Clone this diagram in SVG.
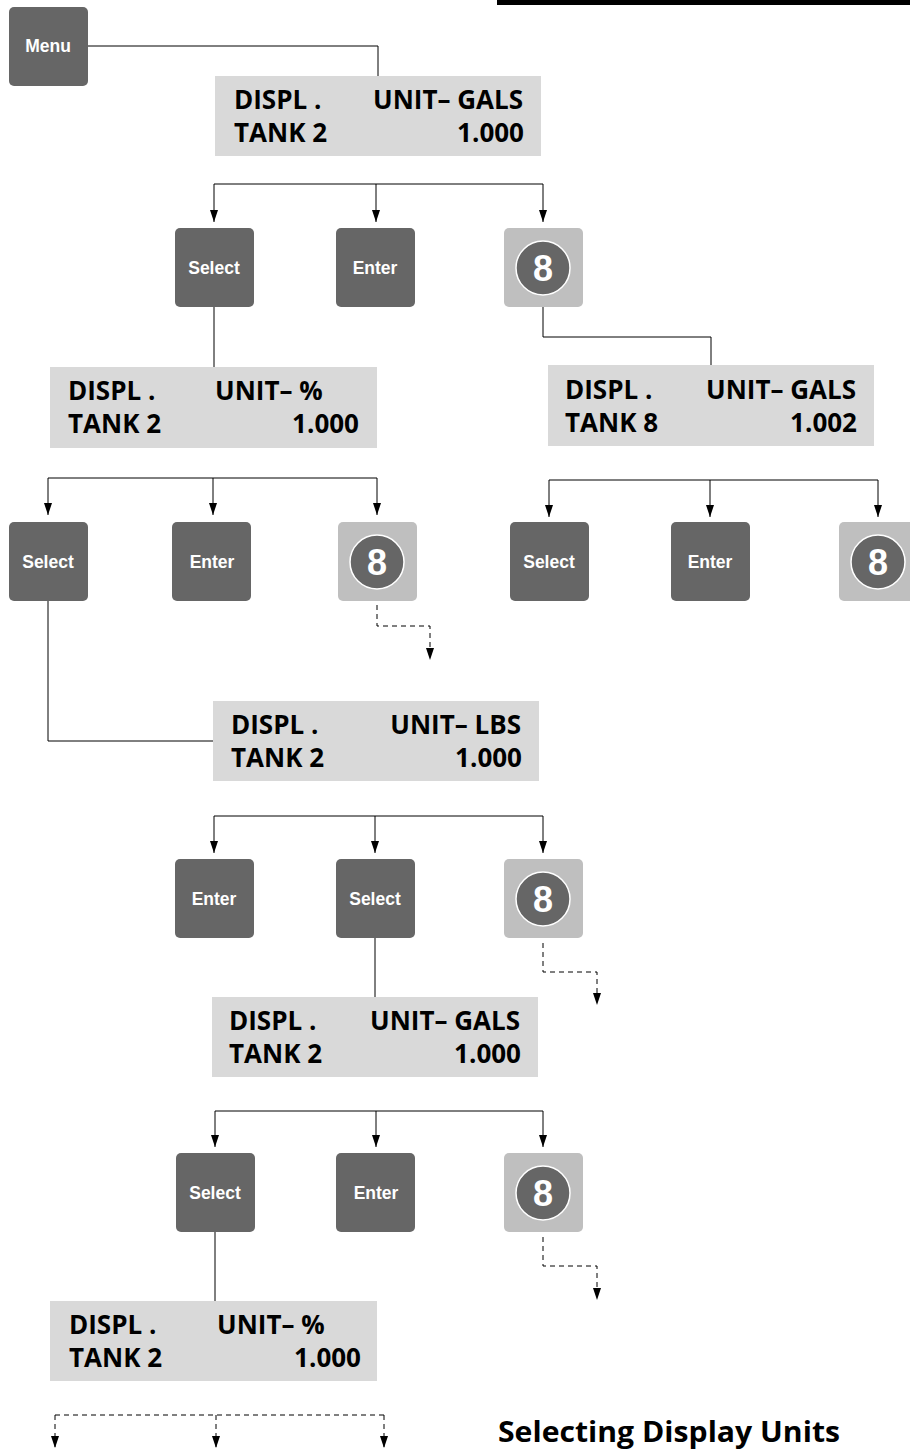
<svg xmlns="http://www.w3.org/2000/svg" width="910" height="1452" viewBox="0 0 910 1452">
<style>
.btn{fill:#666666}
.kbg{fill:#bfbfbf}
.kc{fill:#666666;stroke:#ffffff;stroke-width:1.5}
.bt{font-family:"Liberation Sans",Arial,sans-serif;font-weight:bold;font-size:17.5px;fill:#ffffff;text-anchor:middle}
.kt{font-family:"Liberation Sans",Arial,sans-serif;font-weight:bold;font-size:36px;fill:#ffffff;text-anchor:middle}
.disp{fill:#d9d9d9}
.dt{font-family:"Open Sans","Noto Sans",sans-serif;font-weight:bold;font-size:26px;fill:#000000}
.r{text-anchor:end}
.ln{fill:none;stroke:#000000;stroke-width:1}
.dl{fill:none;stroke:#000000;stroke-width:1;stroke-dasharray:5 4}
.title{font-family:"Open Sans","Noto Sans",sans-serif;font-weight:bold;font-size:29px;fill:#000000}
</style>
<defs>
<marker id="arr" viewBox="0 0 12 8" refX="12" refY="4" markerWidth="12" markerHeight="8" markerUnits="userSpaceOnUse" orient="auto">
<path d="M0,0 L12,4 L0,8 z" fill="#000000"/>
</marker>
</defs>
<rect x="497" y="0" width="413" height="5" fill="#000000"/>

<g id="connectors">
<path class="ln" d="M88,46 H378 V76"/>
<path class="ln" d="M214,184 H543"/>
<path class="ln" d="M214,184 V222" marker-end="url(#arr)"/>
<path class="ln" d="M376,184 V222" marker-end="url(#arr)"/>
<path class="ln" d="M543,184 V222" marker-end="url(#arr)"/>
<path class="ln" d="M214,307 V367"/>
<path class="ln" d="M543,307 V337 H711 V365"/>
<path class="ln" d="M48,478 H377"/>
<path class="ln" d="M48,478 V515" marker-end="url(#arr)"/>
<path class="ln" d="M213,478 V515" marker-end="url(#arr)"/>
<path class="ln" d="M377,478 V515" marker-end="url(#arr)"/>
<path class="dl" d="M377,605 V626 H430 V660" marker-end="url(#arr)"/>
<path class="ln" d="M48,601 V741 H213"/>
<path class="ln" d="M549,480 H878"/>
<path class="ln" d="M549,480 V517" marker-end="url(#arr)"/>
<path class="ln" d="M710,480 V517" marker-end="url(#arr)"/>
<path class="ln" d="M878,480 V517" marker-end="url(#arr)"/>
<path class="ln" d="M214,816 H543"/>
<path class="ln" d="M214,816 V853" marker-end="url(#arr)"/>
<path class="ln" d="M375,816 V853" marker-end="url(#arr)"/>
<path class="ln" d="M543,816 V853" marker-end="url(#arr)"/>
<path class="ln" d="M375,938 V997"/>
<path class="dl" d="M543,943 V972 H597 V1005" marker-end="url(#arr)"/>
<path class="ln" d="M215,1111 H543"/>
<path class="ln" d="M215,1111 V1147" marker-end="url(#arr)"/>
<path class="ln" d="M376,1111 V1147" marker-end="url(#arr)"/>
<path class="ln" d="M543,1111 V1147" marker-end="url(#arr)"/>
<path class="ln" d="M215,1232 V1301"/>
<path class="dl" d="M543,1237 V1266 H597 V1300" marker-end="url(#arr)"/>
<path class="dl" d="M55,1415 H384"/>
<path class="dl" d="M55,1415 V1448" marker-end="url(#arr)"/>
<path class="dl" d="M216,1415 V1448" marker-end="url(#arr)"/>
<path class="dl" d="M384,1415 V1448" marker-end="url(#arr)"/>
</g>

<g id="menu"><rect class="btn" x="9" y="7" width="79" height="79" rx="5"/><text class="bt" x="48" y="52">Menu</text></g>

<g id="display1"><rect class="disp" x="215" y="76" width="326" height="80"/>
<text class="dt" x="234" y="109">DISPL .</text><text class="dt r" x="523" y="109">UNIT– GALS</text>
<text class="dt" x="234" y="142">TANK 2</text><text class="dt r" x="524" y="142">1.000</text></g>

<g id="select1"><rect class="btn" x="175" y="228" width="79" height="79" rx="5"/><text class="bt" x="214" y="274">Select</text></g>
<g id="enter1"><rect class="btn" x="336" y="228" width="79" height="79" rx="5"/><text class="bt" x="375" y="274">Enter</text></g>
<g id="key8a"><rect class="kbg" x="504" y="228" width="79" height="79" rx="5"/><circle class="kc" cx="543" cy="268" r="27"/><text class="kt" x="543" y="281">8</text></g>

<g id="display2"><rect class="disp" x="50" y="367" width="327" height="81"/>
<text class="dt" x="68" y="400">DISPL .</text><text class="dt" x="215" y="400">UNIT– %</text>
<text class="dt" x="68" y="433">TANK 2</text><text class="dt r" x="359" y="433">1.000</text></g>

<g id="display3"><rect class="disp" x="548" y="365" width="326" height="81"/>
<text class="dt" x="565" y="399">DISPL .</text><text class="dt r" x="856" y="399">UNIT– GALS</text>
<text class="dt" x="565" y="432">TANK 8</text><text class="dt r" x="857" y="432">1.002</text></g>

<g id="select2"><rect class="btn" x="9" y="522" width="79" height="79" rx="5"/><text class="bt" x="48" y="568">Select</text></g>
<g id="enter2"><rect class="btn" x="172" y="522" width="79" height="79" rx="5"/><text class="bt" x="212" y="568">Enter</text></g>
<g id="key8b"><rect class="kbg" x="338" y="522" width="79" height="79" rx="5"/><circle class="kc" cx="377" cy="562" r="27"/><text class="kt" x="377" y="575">8</text></g>

<g id="select3"><rect class="btn" x="510" y="522" width="79" height="79" rx="5"/><text class="bt" x="549" y="568">Select</text></g>
<g id="enter3"><rect class="btn" x="671" y="522" width="79" height="79" rx="5"/><text class="bt" x="710" y="568">Enter</text></g>
<g id="key8c"><rect class="kbg" x="839" y="522" width="79" height="79" rx="5"/><circle class="kc" cx="878" cy="562" r="27"/><text class="kt" x="878" y="575">8</text></g>

<g id="display4"><rect class="disp" x="213" y="701" width="326" height="80"/>
<text class="dt" x="231" y="734">DISPL .</text><text class="dt r" x="521" y="734">UNIT– LBS</text>
<text class="dt" x="231" y="767">TANK 2</text><text class="dt r" x="522" y="767">1.000</text></g>

<g id="enter4"><rect class="btn" x="175" y="859" width="79" height="79" rx="5"/><text class="bt" x="214" y="905">Enter</text></g>
<g id="select4"><rect class="btn" x="336" y="859" width="79" height="79" rx="5"/><text class="bt" x="375" y="905">Select</text></g>
<g id="key8d"><rect class="kbg" x="504" y="859" width="79" height="79" rx="5"/><circle class="kc" cx="543" cy="899" r="27"/><text class="kt" x="543" y="912">8</text></g>

<g id="display5"><rect class="disp" x="212" y="997" width="326" height="80"/>
<text class="dt" x="229" y="1030">DISPL .</text><text class="dt r" x="520" y="1030">UNIT– GALS</text>
<text class="dt" x="229" y="1063">TANK 2</text><text class="dt r" x="521" y="1063">1.000</text></g>

<g id="select5"><rect class="btn" x="176" y="1153" width="79" height="79" rx="5"/><text class="bt" x="215" y="1199">Select</text></g>
<g id="enter5"><rect class="btn" x="336" y="1153" width="79" height="79" rx="5"/><text class="bt" x="376" y="1199">Enter</text></g>
<g id="key8e"><rect class="kbg" x="504" y="1153" width="79" height="79" rx="5"/><circle class="kc" cx="543" cy="1193" r="27"/><text class="kt" x="543" y="1206">8</text></g>

<g id="display6"><rect class="disp" x="50" y="1301" width="327" height="80"/>
<text class="dt" x="69" y="1334">DISPL .</text><text class="dt" x="217" y="1334">UNIT– %</text>
<text class="dt" x="69" y="1367">TANK 2</text><text class="dt r" x="361" y="1367">1.000</text></g>

<text class="title" x="498" y="1442" textLength="342" lengthAdjust="spacingAndGlyphs">Selecting Display Units</text>
</svg>
